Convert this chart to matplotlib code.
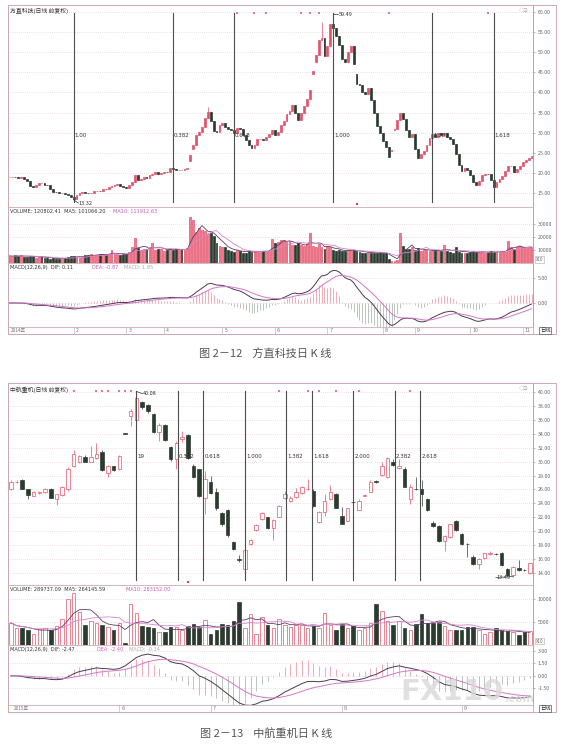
import matplotlib
matplotlib.use("Agg")
import matplotlib.pyplot as plt
import matplotlib.transforms as mtransforms
import numpy as np

plt.rcParams['font.family'] = ['Noto Sans CJK SC', 'DejaVu Sans']

W, H = 576, 747
UP = '#e4536c'
DOWN = '#2b3b30'
FRAME = '#cfa9b0'
AXIS = '#9a9a9a'
DOT = '#dcc4c9'
TXT = '#333333'
PINK = '#c65bb8'

# ---------------- chart 1: 方直科技 2014 (daily closes)
fz_close = [
    19.0, 19.1, 18.9, 18.8, 19.0, 18.6, 17.9, 16.8, 16.5, 17.0,
    17.6, 17.4, 17.0, 16.9, 16.0, 15.3, 15.2, 15.0, 15.1, 14.8,
    14.4, 13.9, 13.6, 14.6, 14.9, 15.3, 15.0, 14.9, 15.1, 15.4,
    15.6, 15.5, 16.1, 16.0, 16.5, 16.7, 16.9, 17.3, 16.8, 16.4,
    16.2, 17.0, 17.7, 19.5, 18.2, 18.6, 19.0, 18.8, 19.4, 19.7,
    20.2, 19.8, 20.0, 20.3, 20.2, 21.3, 20.9, 20.6, 20.8, 20.7,
    21.0, 21.2, 24.5, 27.0, 29.5, 30.2, 31.4, 33.6, 35.2, 33.0,
    30.5, 30.2, 32.0, 32.5, 31.4, 31.0, 30.6, 29.8, 31.2, 30.8,
    29.3, 28.1, 27.0, 26.2, 27.0, 28.4, 28.5, 28.2, 28.9, 29.6,
    30.6, 29.3, 30.2, 31.8, 33.0, 34.6, 35.5, 36.8, 35.0, 33.1,
    35.0, 36.6, 38.3, 40.6, 45.3, 49.2, 53.0, 53.5, 49.0, 51.5,
    57.0, 56.0, 54.0, 51.8, 48.4, 47.5, 50.0, 51.5, 47.0, 42.2,
    41.8, 40.0, 39.6, 41.0, 38.2, 35.0, 31.6, 29.8, 28.0, 26.4,
    24.0, 25.6, 30.8, 33.2, 35.0, 33.4, 30.6, 29.0, 29.6, 26.0,
    23.6, 24.6, 25.4, 27.0, 28.6, 29.7, 28.9, 29.8, 29.4, 30.0,
    28.8, 28.5, 27.2, 24.6, 21.9, 20.4, 21.3, 20.8, 19.4, 17.8,
    16.9, 17.9, 19.4, 19.8, 19.7, 18.2, 16.6, 17.7, 18.4, 19.2,
    20.4, 21.6, 21.8, 20.3, 21.0, 21.8, 22.6, 23.2, 23.8, 24.2,
]
fz_gap_open = {62: 23.0, 63: 26.0, 104: 44.6, 105: 47.5, 119: 44.5, 131: 25.5, 132: 30.6}
fz_high = {68: 36.4, 107: 57.6, 111: 59.49}
fz_low = {22: 13.32}
fz_vol = [
    5500, 5000, 5800, 5200, 6000, 4500, 4800, 5500, 5000, 4200, 4500, 5000, 4000,
    3600, 3400, 3800, 3000, 3200, 3400, 3600, 4800, 5200, 5600, 4400, 4200, 4600,
    5800, 6200, 6600, 6400, 5800, 6800, 7200, 6400, 6600, 10200, 7000, 6600, 6000,
    6800, 7200, 8500, 12000, 19000, 11500, 10000,
    11000, 10500, 12000, 15000, 10000, 11000, 10500, 9500, 10000, 11000,
    10000, 10500, 9800, 11000, 10200, 11500,
    35000, 33000, 24000,
    26500, 25000, 24500, 22000, 23000, 21000,
    15000, 13000, 12000, 12500, 10000,
    9000, 8500, 10000, 9500, 8000, 7500, 9000, 8800,
    9200, 9000, 8600, 9500, 9000, 9400,
    18500,
    15000, 16500, 17500, 18000, 16000, 17000,
    14000, 13500, 15000, 14000, 13000, 14500,
    23000,
    13000, 12000, 14500, 12500, 11000, 13000, 12000,
    10000, 9500, 9800, 9000, 9500, 10000, 9200, 9800, 9000,
    8500, 8000, 7800, 8200, 8000, 7500, 7800, 8300, 8000, 7600,
    3000, 1500, 1800, 2500,
    23000,
    13000, 11000, 10500, 12000, 10000, 11500,
    9500, 9800, 10200, 9000, 9500, 9800, 10000, 9200, 13500, 9000,
    8500, 8000, 12000, 8200, 7800, 8000, 7500, 8500, 9000, 8200,
    8500, 8800, 8000, 8500, 9000, 8200, 8700, 8500, 9200, 8800,
    17000,
    12500, 11000, 12000, 13000, 12500, 11500, 12000, 12500,
]
fz_fib_anchor = (22, 111)
fz_fib_ratio = [0.0, 0.382, 0.618, 1.0, 1.382, 1.618]
fz_fib_text = ['1.00', '0.382', '0.618', '1.000', '1.382', '1.618']
fz_marks_top = [78, 84, 88, 100, 103, 106, 130, 164]
fz_marks_bottom = [119]
fz_month_pos = [22, 40, 53, 73, 91, 109, 128, 139, 158, 176]
fz_month_lab = ['2', '3', '4', '5', '6', '7', '8', '9', '10', '11']

# ---------------- chart 2: 中航重机 2015
zh_open = [
    26.0, 27.0, 27.3, 26.0, 25.1, 25.5, 25.6, 26.1, 24.6, 25.2,
    26.0, 29.3, 30.0, 30.7, 30.0, 30.5, 31.4, 28.4, 29.3, 28.9,
    34.05, 36.5, 36.0, 38.5, 38.1, 36.9, 34.3, 35.3, 32.1, 30.3,
    33.3, 33.8, 29.4, 28.9, 24.8, 27.1, 25.7, 22.6, 23.0, 18.5,
    16.0, 14.5, 18.1, 20.2, 21.7, 22.0, 20.4, 22.1, 24.8, 24.4,
    24.9, 25.5, 26.0, 25.8, 21.3, 22.8, 24.6, 25.4, 22.2, 21.5,
    24.25, 23.1, 25.1, 25.7, 27.2, 28.1, 27.8, 30.0, 29.1, 29.0,
    24.6, 26.05, 26.0, 24.6, 21.2, 20.7, 18.6, 19.2, 21.5, 19.6,
    18.2, 16.3, 15.3, 16.1, 16.7, 16.75, 16.9, 14.6, 13.7, 14.7,
    14.45, 14.0,
]
zh_close = [
    27.1, 27.1, 26.1, 25.2, 25.6, 25.6, 26.1, 24.8, 25.3, 26.3,
    29.0, 31.1, 30.8, 30.0, 30.6, 31.1, 28.8, 29.3, 28.8, 30.8,
    34.0, 37.3, 39.1, 37.8, 37.2, 34.3, 35.3, 33.1, 30.3, 32.7,
    33.6, 30.5, 27.8, 25.0, 27.5, 25.5, 23.3, 21.0, 19.4, 17.4,
    15.8, 17.3, 18.8, 20.9, 22.6, 20.4, 21.6, 23.6, 25.3, 24.8,
    25.7, 26.3, 26.1, 23.6, 22.8, 24.4, 25.7, 23.4, 21.1, 23.3,
    24.15, 24.4, 25.2, 27.1, 27.0, 29.4, 30.5, 29.5, 29.4, 26.4,
    26.4, 26.0, 25.4, 23.0, 20.7, 18.6, 19.3, 21.0, 20.1, 18.1,
    18.15, 15.3, 16.0, 16.8, 16.8, 16.7, 15.1, 13.7, 14.9, 14.4,
    14.4, 15.4,
]
zh_high = [
    27.4, 27.3, 27.5, 26.1, 25.8, 25.8, 26.2, 26.2, 25.4, 26.5,
    29.2, 31.6, 31.0, 30.9, 32.2, 32.7, 31.6, 29.5, 29.4, 31.0,
    34.1, 37.5, 40.08, 38.7, 38.3, 37.0, 35.6, 35.4, 32.3, 33.0,
    34.4, 34.0, 29.6, 29.0, 28.6, 27.9, 26.2, 22.8, 23.2, 18.6,
    16.6, 17.4, 18.9, 21.0, 22.8, 22.1, 21.8, 23.8, 25.8, 25.0,
    26.2, 26.5, 27.5, 26.0, 22.9, 25.3, 26.6, 25.5, 23.5, 23.4,
    24.4, 24.6, 25.4, 27.3, 27.4, 30.0, 30.7, 30.3, 30.3, 29.2,
    26.8, 27.8, 27.3, 24.7, 21.5, 20.9, 19.5, 21.1, 21.6, 19.7,
    18.3, 16.6, 16.2, 16.9, 17.2, 16.9, 17.0, 14.7, 15.0, 15.8,
    14.5, 15.5,
]
zh_low = [
    25.9, 26.9, 26.0, 24.6, 25.0, 25.4, 25.5, 24.7, 23.7, 25.0,
    25.8, 29.2, 29.8, 29.9, 29.9, 30.4, 28.7, 27.8, 28.6, 28.8,
    33.95, 35.1, 35.8, 37.6, 37.0, 34.1, 33.0, 33.0, 30.1, 28.9,
    32.8, 30.4, 27.6, 24.9, 22.5, 25.4, 23.0, 20.8, 19.2, 17.3,
    15.6, 14.4, 18.0, 20.0, 21.6, 20.3, 18.8, 22.0, 24.6, 24.2,
    24.8, 25.4, 25.9, 23.5, 21.2, 22.2, 24.5, 23.3, 21.0, 21.4,
    24.0, 23.0, 25.0, 25.6, 26.9, 27.9, 27.6, 29.4, 28.9, 26.3,
    23.9, 25.9, 23.6, 22.9, 20.6, 18.4, 17.1, 19.0, 20.0, 18.0,
    16.3, 15.2, 14.6, 16.0, 16.6, 16.6, 15.0, 13.6, 13.49, 14.3,
    14.3, 13.9,
]
zh_vol = [
    4800, 3600, 3600, 3200, 2400, 3400, 3600, 3200, 4200, 5600,
    10000, 11200, 7200, 4400, 5200, 4800, 4400, 4000, 3200, 4800,
    400, 8960, 7000, 4200, 3800, 3600, 2800, 2800, 3800, 4000,
    3200, 4200, 4600, 4000, 5400, 2400, 3200, 4600, 4400, 5200,
    9400, 3600, 6800, 2400, 6000, 4400, 3600, 5600, 4400, 4000,
    4400, 4400, 3600, 4200, 3600, 7000, 4400, 3200, 4600, 3600,
    4200, 3200, 3600, 4800, 8800, 7400, 5200, 4400, 5200, 3600,
    3200, 4600, 6800, 4800, 4800, 5000, 4200, 3200, 3200, 3200,
    4000, 4000, 3200, 2400, 2800, 3600, 3200, 3000, 2800, 2200,
    2800, 3000,
]
zh_fib_anchor = (22, 41)
zh_fib_ratio = [0.0, 0.382, 0.618, 1.0, 1.382, 1.618, 2.0, 2.382, 2.618]
zh_fib_text = ['19', '0.382', '0.618', '1.000', '1.382', '1.618', '2.000', '2.382', '2.618']
zh_marks_top = [11, 15, 16, 17, 19, 20, 21, 47, 52, 54, 57, 61, 70]
zh_marks_bottom = [31]
zh_month_pos = [19, 35, 58, 79]
zh_month_lab = ['6', '7', '8', '9']

fig = plt.figure(figsize=(W / 100, H / 100), dpi=100)


def place(x0, y0, x1, y1):
    return fig.add_axes([x0 / W, 1 - y1 / H, (x1 - x0) / W, (y1 - y0) / H])


def ema(vals, n):
    k = 2.0 / (n + 1)
    e = vals[0]
    out = []
    for v in vals:
        e += k * (v - e)
        out.append(e)
    return np.array(out)


def ma(vals, n):
    out = []
    for i in range(len(vals)):
        seg = vals[max(0, i - n + 1):i + 1]
        out.append(sum(seg) / len(seg))
    return np.array(out)


def style(ax, n, ylim, ticks, fmt, grid=True):
    ax.set_xlim(-0.5, n - 0.5)
    ax.set_ylim(*ylim)
    ax.set_xticks([])
    ax.yaxis.tick_right()
    ax.set_yticks(ticks)
    ax.set_yticklabels([fmt % t for t in ticks])
    ax.tick_params(axis='y', length=1.5, width=0.4, pad=2, labelsize=3.8,
                   colors='#777777', labelcolor='#666666')
    for s in ax.spines.values():
        s.set_color(FRAME)
        s.set_linewidth(0.6)
    ax.spines['right'].set_color(AXIS)
    if grid:
        for t in ticks:
            ax.axhline(t, color=DOT, lw=0.5, ls=(0, (1, 2)), zorder=0)


def candles(ax, o, c, h, l, w, hollow):
    o, c, h, l = map(np.asarray, (o, c, h, l))
    x = np.arange(len(c))
    up = c >= o
    cols = np.where(up, UP, DOWN)
    ax.vlines(x, l, h, colors=cols, lw=0.5, zorder=2)
    bottom = np.minimum(o, c)
    height = np.maximum(np.abs(c - o), 0.06)
    face = np.where(up, 'white' if hollow else UP, DOWN)
    ax.bar(x, height, bottom=bottom, width=w, color=face, edgecolor=cols,
           linewidth=0.5, zorder=3)
    return up


def draw_chart(top, name, o, c, h, l, vol, up_hollow, price_lim, price_ticks,
               vol_lim, vol_ticks, macd_lim, macd_ticks, fib_anchor, fib_ratio,
               fib_text, fib_y, marks_top, marks_bottom, months, year,
               vol_text, macd_text, rows):
    n = len(c)
    y_vol, y_macd, y_date, y_end = rows
    # price
    ax = place(8, top, 533, y_vol)
    style(ax, n, price_lim, price_ticks, '%.2f')
    up = candles(ax, o, c, h, l, 0.62, up_hollow)
    a, b = fib_anchor
    for r, lab in zip(fib_ratio, fib_text):
        xi = a + r * (b - a)
        ax.axvline(xi, 0.025, 0.962, color='#4d4d4d', lw=0.8, zorder=4)
        ax.text(xi + n * 0.002, fib_y, lab, fontsize=4, color=TXT, zorder=5,
                family='DejaVu Sans')
    trans = mtransforms.blended_transform_factory(ax.transData, ax.transAxes)
    ax.scatter(marks_top, [0.958] * len(marks_top), transform=trans, marker='s',
               s=1.2, color='#e07a90', linewidths=0, zorder=5)
    ax.scatter(marks_bottom, [0.015] * len(marks_bottom), transform=trans,
               marker='s', s=3, color='#e0403a', linewidths=0, zorder=5)
    ax.text(0.004, 0.985, name, transform=ax.transAxes, fontsize=4.2,
            color=TXT, va='top')
    ax.text(0.992, 0.985, '◇⊡', transform=ax.transAxes, fontsize=3.8,
            color='#999999', va='top', ha='right')

    # volume
    av = place(8, y_vol, 533, y_macd)
    style(av, n, vol_lim, vol_ticks, '%d')
    vol = np.asarray(vol)
    x = np.arange(n)
    vc = np.where(up, UP, DOWN)
    vf = np.where(up, 'white' if up_hollow else '#f08090', DOWN)
    av.bar(x, vol, width=0.62, color=vf, edgecolor=vc, linewidth=0.5, zorder=2)
    av.plot(x, ma(list(vol), 5), color='#5a4060', lw=0.6, zorder=3)
    av.plot(x, ma(list(vol), 10), color='#d884d0', lw=0.6, zorder=3)
    av.text(0.004, 0.97, vol_text[0], transform=av.transAxes, fontsize=3.6,
            color=TXT, va='top', family='DejaVu Sans')
    av.text(vol_text[2], 0.97, vol_text[1], transform=av.transAxes,
            fontsize=3.6, color=PINK, va='top', family='DejaVu Sans')
    av.text(1.005, 0.02, 'X10', transform=av.transAxes, fontsize=3.2,
            color='#666666', va='bottom',
            bbox=dict(boxstyle='square,pad=0.15', fc='white', ec='#aaaaaa', lw=0.4))

    # macd
    am = place(8, y_macd, 533, y_date)
    style(am, n, macd_lim, macd_ticks, '%.2f')
    cl = list(c)
    dif = ema(cl, 12) - ema(cl, 26)
    dea = ema(list(dif), 9)
    hist = 2 * (dif - dea)
    am.vlines(x, 0, hist, colors=np.where(hist >= 0, '#e98b9c', '#a2aca4'),
              lw=0.5, zorder=2)
    am.plot(x, dif, color='#4b3b4f', lw=0.7, zorder=3)
    am.plot(x, dea, color='#d477c8', lw=0.7, zorder=3)
    am.text(0.004, 0.97, macd_text[0], transform=am.transAxes, fontsize=3.6,
            color=TXT, va='top', family='DejaVu Sans')
    am.text(macd_text[2], 0.97, macd_text[1], transform=am.transAxes,
            fontsize=3.6, color=PINK, va='top', family='DejaVu Sans')
    am.text(macd_text[4], 0.97, macd_text[3], transform=am.transAxes,
            fontsize=3.6, color='#aaaaaa', va='top', family='DejaVu Sans')

    # dates
    ad = place(8, y_date, 533, y_end)
    ad.set_xlim(-0.5, n - 0.5)
    ad.set_ylim(0, 1)
    ad.set_xticks([])
    ad.set_yticks([])
    for s in ad.spines.values():
        s.set_color(FRAME)
        s.set_linewidth(0.6)
    ad.text(0.5, 0.5, year, fontsize=3.4, color='#777777', va='center')
    for p, lab in zip(*months):
        ad.vlines(p, 0, 1, color='#aaaaaa', lw=0.4)
        ad.text(p + n * 0.004, 0.5, lab, fontsize=3.4, color='#777777',
                va='center', family='DejaVu Sans')
    fig.text(545 / W, 1 - (y_end - 3.5) / H, '日线', fontsize=3.8, color='#222222',
             ha='center', va='center', zorder=25,
             bbox=dict(boxstyle='square,pad=0.2', fc='white', ec='#555555', lw=0.5))
    fig.patches.append(plt.Rectangle((8 / W, 1 - y_end / H), 548 / W,
                                     (y_end - top) / H, transform=fig.transFigure,
                                     fill=False, ec=FRAME, lw=0.7))
    return ax


# chart 1 OHLC from closes, previous close as open
fz_open = [fz_close[0]] + fz_close[:-1]
for i, v in fz_gap_open.items():
    fz_open[i] = v
fz_hi = [max(a, b) for a, b in zip(fz_open, fz_close)]
fz_lo = [min(a, b) for a, b in zip(fz_open, fz_close)]
for i, v in fz_high.items():
    fz_hi[i] = v
for i, v in fz_low.items():
    fz_lo[i] = v

ax1 = draw_chart(5, '方直科技(日线 前复权)', fz_open, fz_close, fz_hi, fz_lo, fz_vol,
                 False, (11.52, 61.74), [15, 20, 25, 30, 35, 40, 45, 50, 55, 60],
                 (0, 43000), [10000, 20000, 30000], (-4.8, 8.0), [0, 5],
                 fz_fib_anchor, fz_fib_ratio, fz_fib_text, 28.9,
                 fz_marks_top, fz_marks_bottom, (fz_month_pos, fz_month_lab), '2014年',
                 ('VOLUME: 120802.41  MA5: 101066.20', 'MA10: 111912.63', 0.2),
                 ('MACD(12,26,9)  DIF: 0.11', 'DEA: -0.87', 0.16, 'MACD: 1.95', 0.22),
                 (207, 263, 327, 334))
ax1.plot([111, 112.6], [59.49, 59.49], color='#333333', lw=0.5, zorder=6)
ax1.text(112.8, 59.3, '59.49', fontsize=4, color=TXT, va='center', zorder=6)
ax1.plot([22, 23.6], [13.32, 12.5], color='#333333', lw=0.5, zorder=6)
ax1.text(23.8, 12.5, '13.32', fontsize=4, color=TXT, va='center', zorder=6)

ax2 = draw_chart(383, '中航重机(日线 前复权)', zh_open, zh_close, zh_high, zh_low, zh_vol,
                 True, (12.27, 41.29), [14, 16, 18, 20, 22, 24, 26, 28, 30, 32, 34, 36, 38, 40],
                 (0, 13000), [5000, 10000], (-3.5, 3.7), [-1.5, 0, 1.5, 3.0],
                 zh_fib_anchor, zh_fib_ratio, zh_fib_text, 30.5,
                 zh_marks_top, zh_marks_bottom, (zh_month_pos, zh_month_lab), '2015年',
                 ('VOLUME: 289737.09  MA5: 264145.59', 'MA10: 283152.00', 0.225),
                 ('MACD(12,26,9)  DIF: -2.47', 'DEA: -2.40', 0.17, 'MACD: -0.14', 0.23),
                 (585, 645, 705, 712))
ax2.plot([22, 23.1], [40.08, 39.75], color='#333333', lw=0.5, zorder=6)
ax2.text(23.2, 39.75, '40.08', fontsize=4, color=TXT, va='center', zorder=6)
ax2.plot([85.0, 88], [13.35, 13.49], color='#333333', lw=0.5, zorder=6)
ax2.text(87.6, 13.35, '13.49', fontsize=4, color=TXT, va='center', ha='right', zorder=6)

fig.text(265 / W, 1 - 353 / H, '图 2－12    方直科技日 K 线', fontsize=8,
         color='#555555', ha='center', va='center')
fig.text(266 / W, 1 - 733 / H, '图 2－13    中航重机日 K 线', fontsize=8,
         color='#555555', ha='center', va='center')
fig.text(400 / W, 1 - 692 / H, 'FX110', fontsize=21, weight='bold',
         color='#d9d9d9', alpha=0.8, ha='left', va='center', family='DejaVu Sans',
         zorder=20)
fig.text(505 / W, 1 - 699 / H, '.com', fontsize=8, weight='bold',
         color='#d9d9d9', alpha=0.8, ha='left', va='center', family='DejaVu Sans',
         zorder=20)

fig.savefig('out.png', dpi=100, facecolor='white')
